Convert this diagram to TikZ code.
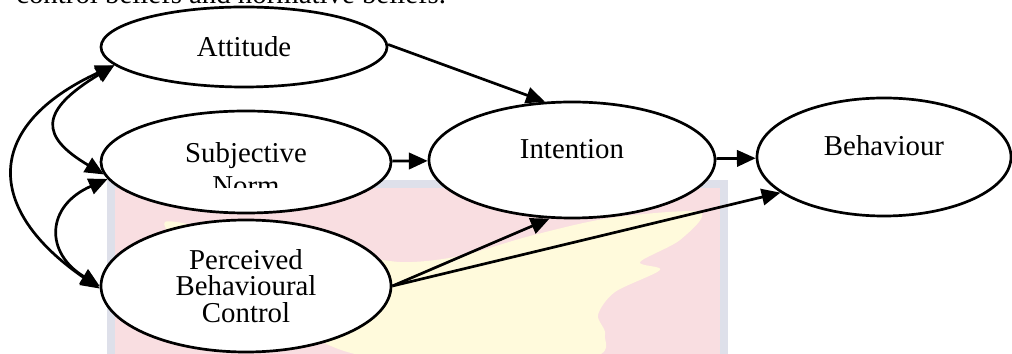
\documentclass[tikz,border=0pt]{standalone}
\usepackage{fontspec}
\setmainfont{Liberation Serif}
\usetikzlibrary{arrows.meta,shapes.geometric}

\begin{document}
\begin{tikzpicture}[x=0.015cm, y=0.015cm,
		every node/.style={font=\fontsize{12.3}{11.2}\selectfont},
		oval/.style={ellipse, draw, fill=white, line width=1.15pt, inner sep=0pt},
		arr/.style={-{Triangle[length=8pt,width=7pt]}, line width=1.15pt},
		dblarr/.style={{Triangle[length=8pt,width=7pt]}-{Triangle[length=8pt,width=7pt]}, line width=1.15pt}]
		\useasboundingbox (0,0) rectangle (1012,-354);
		
		% watermark
		\fill[fill={rgb,255:red,222;green,224;blue,234}] (107,-180) rectangle (728,-360);
		\fill[fill={rgb,255:red,249;green,222;blue,225}] (115,-188) rectangle (720,-360);
		\fill[fill={rgb,255:red,255;green,250;blue,220}] plot[smooth cycle, tension=0.5] coordinates {(165,-222) (240,-235) (330,-250) (400,-262) (460,-256) (530,-236) (610,-218) (700,-212) (680,-240) (640,-262) (660,-270) (615,-292) (598,-315) (605,-335) (585,-358) (380,-358) (300,-330) (200,-262)};
		
		\node[oval, minimum width=4.29cm, minimum height=1.2cm] (att) at (244,-47) {Attitude};
		\node[oval, minimum width=4.35cm, minimum height=1.53cm] (sn) at (246,-162) {};
		\begin{scope}
			\clip (150,-120) rectangle (340,-188);
			\node[align=center, anchor=base] (snT) at (246,-196) {Subjective\\[3.3pt]Norm};
		\end{scope}
		\node[oval, minimum width=4.35cm, minimum height=1.98cm, align=center] (pbc) at (246,-286) {Perceived\\Behavioural\\Control};
		\node[oval, minimum width=4.29cm, minimum height=1.74cm, text depth=9.4pt] (int) at (572,-160) {Intention};
		\node[oval, minimum width=3.81cm, minimum height=1.77cm, text depth=10.2pt] (beh) at (884,-157) {Behaviour};
		
		\draw[arr] (att.1) -- (int.115);
		\draw[arr] (sn) -- (int);
		\draw[arr] (int) -- (beh);
		\draw[arr] (pbc.east) -- (int.249);
		\draw[arr] (pbc.east) -- (beh.199);
		
		\draw[dblarr] (att.188) .. controls +(-130,-60) and +(-117,80) .. (pbc.181);
		\draw[dblarr] (att.188) .. controls +(-76,-46) and +(-64,38) .. (sn.185);
		\draw[dblarr] (sn.187) .. controls +(-62,-27) and +(-55,33) .. (pbc.180);
		
		\node[anchor=base west] (top) at (8,-4) {control beliefs and normative beliefs.};
	\end{tikzpicture}
\end{document}
